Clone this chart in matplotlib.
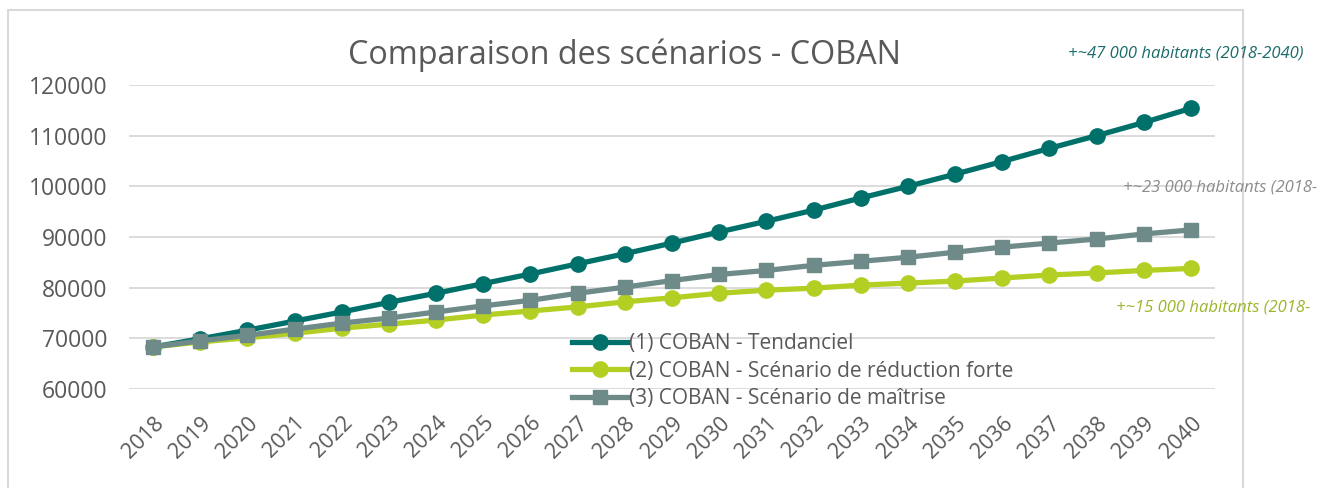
import matplotlib
matplotlib.use("Agg")
import matplotlib.pyplot as plt
from matplotlib.patches import Rectangle

plt.rcParams['font.family'] = ['Open Sans', 'DejaVu Sans']

years = [str(y) for y in range(2018, 2041)]
tendanciel = [68300, 69900, 71600, 73400, 75200, 77100, 78900, 80800, 82700, 84700,
              86700, 88800, 91000, 93100, 95300, 97700, 100000, 102400, 104900,
              107500, 110000, 112600, 115400]
reduction = [68300, 69300, 70100, 71000, 72000, 72800, 73600, 74600, 75400, 76200,
             77200, 78000, 78900, 79500, 79900, 80500, 80900, 81300, 81900,
             82500, 82900, 83400, 83800]
maitrise = [68300, 69500, 70600, 71800, 73000, 74000, 75200, 76400, 77500, 78900,
            80100, 81400, 82600, 83400, 84400, 85200, 86000, 87000, 88000,
            88800, 89600, 90600, 91400]
labels = ["(1) COBAN - Tendanciel",
          "(2) COBAN - Scénario de réduction forte",
          "(3) COBAN - Scénario de maîtrise"]
annotations = ["+~47 000 habitants (2018-2040)",
               "+~23 000 habitants (2018-",
               "+~15 000 habitants (2018-"]
yticks = [60000, 70000, 80000, 90000, 100000, 110000, 120000]

c_teal = "#00706B"
c_lime = "#B4CF23"
c_gray = "#6E8B8A"
c_text = "#595959"

W, H = 1319, 488
fig = plt.figure(figsize=(W / 100, H / 100), dpi=100)
ax = fig.add_axes([129.4 / W, 1 - 389 / H, (1214.6 - 129.4) / W, (389 - 85) / H])

x = list(range(len(years)))
l1, = ax.plot(x, tendanciel, color=c_teal, lw=3.8, marker='o', ms=11, clip_on=False, zorder=3)
l2, = ax.plot(x, reduction, color=c_lime, lw=3.8, marker='o', ms=11, clip_on=False, zorder=4)
l3, = ax.plot(x, maitrise, color=c_gray, lw=3.8, marker='s', ms=10.5, clip_on=False, zorder=5)

ax.set_xlim(-0.5, len(years) - 0.5)
ax.set_ylim(60000, 120000)
ax.set_yticks(yticks)
ax.set_yticklabels([str(v) for v in yticks])
ax.set_xticks(x)
ax.set_xticklabels(years, rotation=45, ha='right', va='top', rotation_mode='anchor')
ax.yaxis.set_tick_params(length=0, labelsize=16.5, labelcolor=c_text, pad=16)
ax.xaxis.set_tick_params(length=0, labelsize=15.5, labelcolor=c_text, pad=17)
ax.grid(axis='y', color='#D9D9D9', lw=1.3)
ax.set_axisbelow(True)
for s in ax.spines.values():
    s.set_visible(False)

fig.text(624 / W, 1 - 55 / H, "Comparaison des scénarios - COBAN", ha='center', va='center',
         fontsize=23.3, color=c_text)

fig.text(1068 / W, 1 - 54 / H, annotations[0], ha='left', va='center', fontsize=12,
         style='italic', color="#1A6B6A")
fig.text(1123 / W, 1 - 187 / H, annotations[1], ha='left', va='center', fontsize=12,
         style='italic', color="#8C8C8C")
fig.text(1116 / W, 1 - 307 / H, annotations[2], ha='left', va='center', fontsize=12,
         style='italic', color="#9AB52A")

leg = ax.legend([l1, l2, l3], labels, loc='upper left',
                bbox_to_anchor=(562 / W, 1 - 323 / H), bbox_transform=fig.transFigure,
                frameon=False, fontsize=15, handlelength=2.6, handletextpad=0.1,
                labelspacing=0.3, borderpad=0, labelcolor=c_text)

fig.patches.append(Rectangle((7.5 / W, -0.1), (1243 - 7.5) / W, 1.1 - 9.5 / H,
                             transform=fig.transFigure, fill=False, edgecolor='#D9D9D9',
                             lw=1.5, zorder=0))

fig.savefig("out.png", dpi=100)
